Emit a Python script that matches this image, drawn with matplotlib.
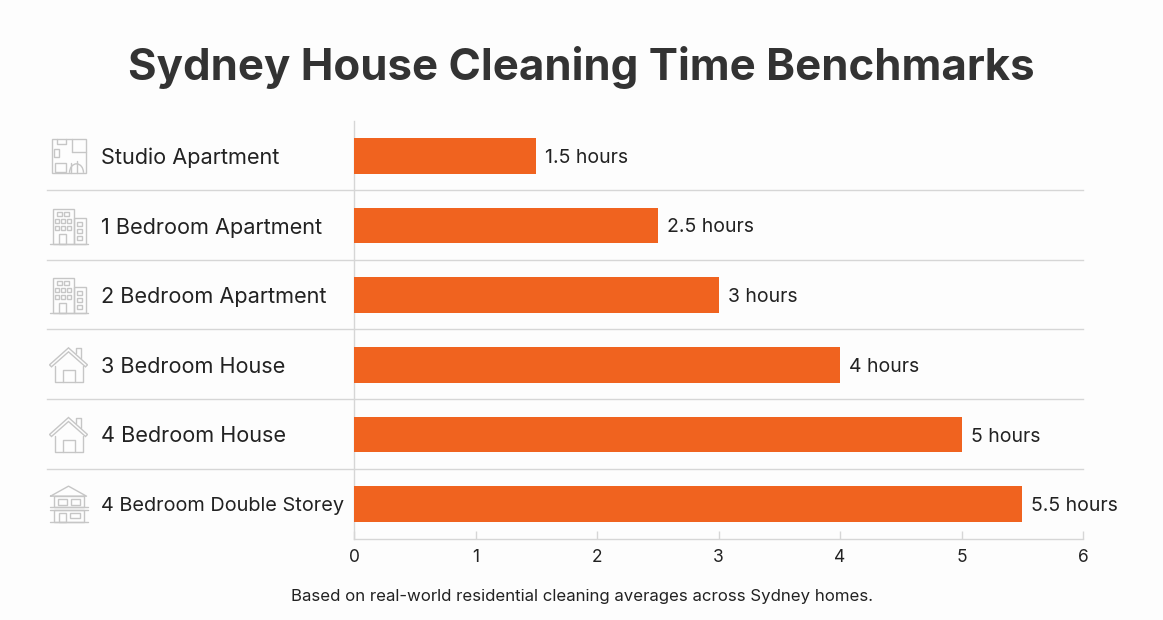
import matplotlib
matplotlib.use("Agg")
import matplotlib.pyplot as plt
from matplotlib.patches import Rectangle, Polygon, Arc

plt.rcParams['font.family'] = ['Inter', 'DejaVu Sans']

W, H = 1163, 620

categories = ["Studio Apartment", "1 Bedroom Apartment", "2 Bedroom Apartment",
              "3 Bedroom House", "4 Bedroom House", "4 Bedroom Double Storey"]
hours = [1.5, 2.5, 3, 4, 5, 5.5]
value_labels = ["1.5 hours", "2.5 hours", "3 hours", "4 hours", "5 hours", "5.5 hours"]
x_ticks = [0, 1, 2, 3, 4, 5, 6]
icon_types = ["plan", "flats", "flats", "house", "house", "double"]

BAR = "#f0631f"
GREY = "#d6d6d6"
ICON = "#c6c6c6"
TEXT = "#222222"


def rect(ov, x, y, w, h):
    ov.add_patch(Rectangle((x, y), w, h, fill=False, ec=ICON, lw=1))


def line(ov, xs, ys):
    ov.plot(xs, ys, color=ICON, lw=1, solid_capstyle='round')


# icons are drawn in pixel offsets around the middle of each row
def draw_plan(ov, cx, cy):
    rect(ov, cx - 17, cy - 17, 34, 34)
    line(ov, [cx + 3, cx + 3], [cy - 17, cy - 4])
    line(ov, [cx + 3, cx + 17], [cy - 4, cy - 4])
    line(ov, [cx - 12, cx - 12, cx - 3, cx - 3], [cy - 17, cy - 12, cy - 12, cy - 17])
    rect(ov, cx - 15, cy - 7, 5, 8)
    rect(ov, cx - 14, cy + 7, 11, 9)
    line(ov, [cx + 2, cx + 2], [cy + 7, cy + 17])
    line(ov, [cx + 8, cx + 8], [cy + 5, cy + 17])
    ov.add_patch(Arc((cx + 8, cy + 17), 14, 18, theta1=180, theta2=360, ec=ICON, lw=1))


def draw_flats(ov, cx, cy):
    rect(ov, cx - 16, cy - 17, 21, 35)
    rect(ov, cx + 5, cy - 8, 12, 26)
    line(ov, [cx - 19, cx + 19], [cy + 18, cy + 18])
    for c in range(2):
        rect(ov, cx - 12 + c * 7, cy - 14, 5, 4)
    for r in range(1, 3):
        for c in range(3):
            rect(ov, cx - 13.5 + c * 6, cy - 14 + r * 7, 4, 4)
    for r in range(3):
        rect(ov, cx + 8, cy - 4 + r * 7, 5, 4)
    rect(ov, cx - 10, cy + 8, 7, 10)


def draw_house(ov, cx, cy):
    ov.add_patch(Polygon([(cx - 19, cy), (cx, cy - 17), (cx + 19, cy), (cx + 17, cy + 2),
                          (cx, cy - 13), (cx - 17, cy + 2)], closed=True, fill=False, ec=ICON, lw=1))
    line(ov, [cx + 7, cx + 7, cx + 12, cx + 12], [cy - 12, cy - 17, cy - 17, cy - 7])
    line(ov, [cx - 14, cx - 14, cx + 14, cx + 14], [cy + 1, cy + 17, cy + 17, cy + 1])
    line(ov, [cx - 6, cx - 6, cx + 6, cx + 6], [cy + 17, cy + 5, cy + 5, cy + 17])


def draw_double(ov, cx, cy):
    line(ov, [cx - 18, cx, cx + 18, cx - 18], [cy - 8, cy - 18, cy - 8, cy - 8])
    rect(ov, cx - 15, cy - 8, 30, 11)
    rect(ov, cx - 11, cy - 5, 9, 6)
    rect(ov, cx + 2, cy - 5, 9, 6)
    line(ov, [cx - 19, cx + 19], [cy + 3, cy + 3])
    line(ov, [cx - 19, cx + 19], [cy + 6, cy + 6])
    rect(ov, cx - 15, cy + 6, 30, 12)
    rect(ov, cx - 10, cy + 9, 7, 9)
    rect(ov, cx + 1, cy + 9, 10, 5)
    line(ov, [cx - 19, cx + 19], [cy + 18, cy + 18])


ICONS = {"plan": draw_plan, "flats": draw_flats, "house": draw_house, "double": draw_double}

fig = plt.figure(figsize=(W / 100, H / 100), dpi=100, facecolor="#fdfdfd")
ax = fig.add_axes([354 / W, 1 - 539 / H, 729 / W, 418 / H])
ax.set_facecolor("none")

y = list(range(len(categories)))
ax.barh(y, hours, height=0.51, color=BAR, zorder=3)
ax.set_xlim(0, 6)
ax.set_ylim(5.5, -0.5)

for i, (v, lab) in enumerate(zip(hours, value_labels)):
    ax.annotate(lab, (v, i), xytext=(6.5, 0), textcoords='offset points',
                va='center_baseline', ha='left', fontsize=14, color=TEXT)

# row separators run out past the axis, under the category labels
for i in y[:-1]:
    ax.plot([-0.421, 1], [i + 0.49, i + 0.49], transform=ax.get_yaxis_transform(),
            color=GREY, lw=1, clip_on=False, zorder=1)

for s in ['top', 'right']:
    ax.spines[s].set_visible(False)
for s in ['left', 'bottom']:
    ax.spines[s].set_color(GREY)
    ax.spines[s].set_linewidth(1)

ax.set_xticks(x_ticks)
ax.tick_params(axis='x', direction='in', length=6, width=1, color=GREY,
               labelsize=12.5, labelcolor=TEXT, pad=7)
ax.set_yticks(y)
ax.set_yticklabels(categories)
ax.tick_params(axis='y', length=0, pad=182, labelsize=15.6, labelcolor=TEXT)
for t in ax.get_yticklabels():
    t.set_ha('left')
# the longest label has to stop short of the axis
ax.get_yticklabels()[-1].set_fontsize(14.35)

# overlay in image pixels for the icons
ov = fig.add_axes([0, 0, 1, 1])
ov.set_xlim(0, W)
ov.set_ylim(H, 0)
ov.axis('off')
ov.patch.set_alpha(0)
for i, kind in enumerate(icon_types):
    cy = ax.transData.transform((0, i))[1]
    ICONS[kind](ov, 68.5, H - cy)

fig.text(581 / W, 1 - 67.5 / H, "Sydney House Cleaning Time Benchmarks", ha='center', va='center',
         fontsize=31.5, fontweight='bold', color="#333333")
fig.text(582.5 / W, 1 - 596 / H, "Based on real-world residential cleaning averages across Sydney homes.",
         ha='center', va='center', fontsize=12.1, color=TEXT)

fig.savefig("out.png", dpi=100, facecolor=fig.get_facecolor())
